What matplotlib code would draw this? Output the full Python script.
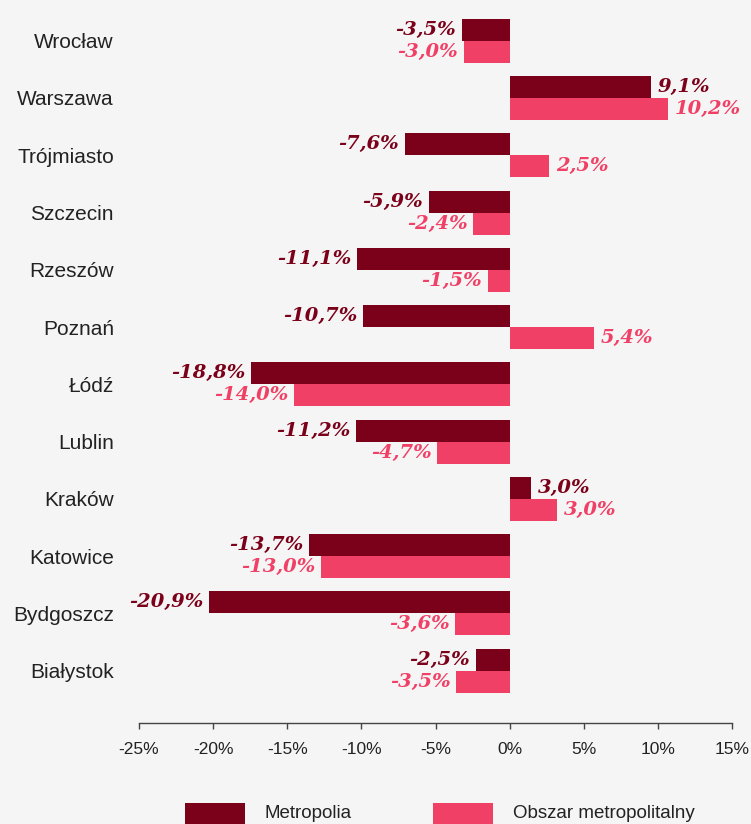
import matplotlib
matplotlib.use("Agg")
import matplotlib.pyplot as plt
from matplotlib.patches import Rectangle

# ---- data ----
cities = ["Wrocław", "Warszawa", "Trójmiasto", "Szczecin", "Rzeszów", "Poznań",
          "Łódź", "Lublin", "Kraków", "Katowice", "Bydgoszcz", "Białystok"]
# bar lengths as drawn in the reference (%)
metropolia = [-3.24, 9.51, -7.09, -5.47, -10.32, -9.92,
              -17.48, -10.39, 1.42, -13.54, -20.31, -2.29]
obszar = [-3.10, 10.66, 2.63, -2.48, -1.50, 5.67,
          -14.57, -4.90, 3.15, -12.75, -3.69, -3.62]
# value labels as printed
metropolia_labels = ["-3,5%", "9,1%", "-7,6%", "-5,9%", "-11,1%", "-10,7%",
                     "-18,8%", "-11,2%", "3,0%", "-13,7%", "-20,9%", "-2,5%"]
obszar_labels = ["-3,0%", "10,2%", "2,5%", "-2,4%", "-1,5%", "5,4%",
                 "-14,0%", "-4,7%", "3,0%", "-13,0%", "-3,6%", "-3,5%"]
xticks = [-25, -20, -15, -10, -5, 0, 5, 10, 15]
xtick_labels = ["-25%", "-20%", "-15%", "-10%", "-5%", "0%", "5%", "10%", "15%"]
series_names = ["Metropolia", "Obszar metropolitalny"]

DARK = "#7b0019"
PINK = "#f04066"
BG = "#f5f5f5"
TXT = "#222222"

W, H = 751, 824
fig = plt.figure(figsize=(W / 100, H / 100), dpi=100, facecolor=BG)
ax = fig.add_axes([139 / W, (H - 723) / H, (732.3 - 139) / W, 723 / H])
ax.set_facecolor(BG)

h = 0.384
ypos = list(range(len(cities)))
ax.barh([y - h / 2 for y in ypos], metropolia, height=h, color=DARK, zorder=3)
ax.barh([y + h / 2 for y in ypos], obszar, height=h, color=PINK, zorder=3)

lab_font = dict(family="DejaVu Serif", fontsize=14, fontweight="heavy", fontstyle="italic")
for y, v, t in zip(ypos, metropolia, metropolia_labels):
    off = 5 if v >= 0 else -4
    ax.annotate(t, (v, y - h / 2), xytext=(off, 0), textcoords="offset points",
                ha="left" if v >= 0 else "right", va="center", color=DARK, **lab_font)
for y, v, t in zip(ypos, obszar, obszar_labels):
    off = 5 if v >= 0 else -4
    ax.annotate(t, (v, y + h / 2), xytext=(off, 0), textcoords="offset points",
                ha="left" if v >= 0 else "right", va="center", color=PINK, **lab_font)

ax.set_xlim(-25, 15)
ax.set_ylim(11 + 0.913, -0.711)
ax.set_xticks(xticks)
ax.set_xticklabels(xtick_labels, family="Liberation Sans", fontsize=12.5, color=TXT)
ax.set_yticks(ypos)
ax.set_yticklabels(cities, family="Liberation Sans", fontsize=15, color=TXT)
ax.tick_params(axis="y", length=0, pad=18)
ax.tick_params(axis="x", length=4, width=1, color="#444444", pad=10)
for s in ["top", "right", "left"]:
    ax.spines[s].set_visible(False)
ax.spines["bottom"].set_color("#444444")
ax.spines["bottom"].set_linewidth(1)

# legend (manual, partly cut off at the bottom as in the reference)
def px(x, y):
    return x / W, (H - y) / H

for (x0, col, name, tx) in [(185, DARK, series_names[0], 265), (433, PINK, series_names[1], 513)]:
    fx, fy = px(x0, 825)
    fig.patches.append(Rectangle((fx, fy), 60 / W, 22 / H, transform=fig.transFigure,
                                 facecolor=col, edgecolor="none"))
    tx_, ty_ = px(tx, 813)
    fig.text(tx_, ty_, name, family="Liberation Sans", fontsize=13.5, color=TXT,
             ha="left", va="center")

fig.savefig("out.png", dpi=100, facecolor=BG)
